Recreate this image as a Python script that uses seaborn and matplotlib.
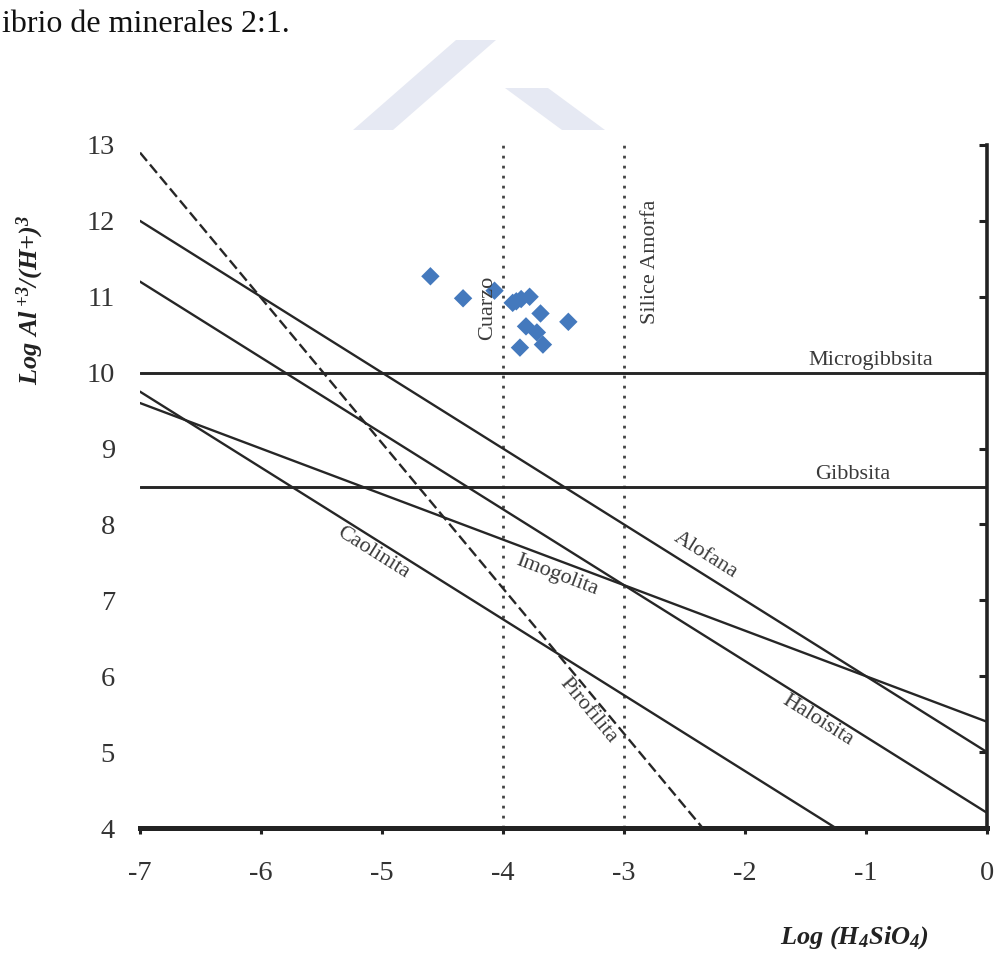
import numpy as np
import pandas as pd
import matplotlib
matplotlib.use("Agg")
import matplotlib.pyplot as plt
from matplotlib.patches import Polygon
import seaborn as sns

# Muestras de agua: log(H4SiO4) frente a log(Al+3/(H+)^3)
log_h4sio4 = [-4.60, -4.33, -4.07, -3.92, -3.89, -3.85, -3.78,
              -3.69, -3.46, -3.81, -3.72, -3.67, -3.86]
log_al_h3 = [11.27, 10.98, 11.08, 10.92, 10.94, 10.97, 11.00,
             10.78, 10.67, 10.61, 10.53, 10.37, 10.33]

# Rectas de equilibrio de los minerales (extremos de cada recta)
minerales = ["Alofana", "Haloisita", "Imogolita", "Caolinita", "Pirofilita"]
x_ini = [-7.0, -7.0, -7.0, -7.0, -7.0]
y_ini = [12.0, 11.2, 9.6, 9.75, 12.9]
x_fin = [0.0, 0.0, 0.0, -1.25, -2.35]
y_fin = [5.0, 4.2, 5.4, 4.0, 4.0]

# Fases de hidróxido de aluminio (independientes de la sílice)
fases_al = ["Microgibbsita", "Gibbsita"]
nivel_al = [10.0, 8.5]

# Saturación de sílice
fases_si = ["Cuarzo", "Silice Amorfa"]
nivel_si = [-4.0, -3.0]

x_ticks = [-7, -6, -5, -4, -3, -2, -1, 0]
y_ticks = [4, 5, 6, 7, 8, 9, 10, 11, 12, 13]

sns.set_style("white")
plt.rcParams["font.family"] = ["Liberation Serif", "DejaVu Serif"]
plt.rcParams["axes.unicode_minus"] = False
plt.rcParams["mathtext.fontset"] = "custom"
plt.rcParams["mathtext.rm"] = "Liberation Serif"
plt.rcParams["mathtext.it"] = "Liberation Serif:italic"
plt.rcParams["mathtext.bf"] = "Liberation Serif:bold"
plt.rcParams["mathtext.bfit"] = "Liberation Serif:bold:italic"

W, H = 997, 960
fig = plt.figure(figsize=(W / 100, H / 100), dpi=100)
fig.patch.set_facecolor("white")

# faint logo in the page background
logo_color = "#e6e9f3"
for pts in ([(353, 130), (393, 130), (496, 40), (456, 40)],
            [(505, 88), (548, 88), (605, 130), (562, 130)]):
    fig.patches.append(Polygon([(x / W, 1 - y / H) for x, y in pts],
                               closed=True, transform=fig.transFigure,
                               facecolor=logo_color, edgecolor="none", zorder=0))

fig.text(2 / W, 1 - 32 / H, "ibrio de minerales 2:1.", fontsize=23,
         color="#111111", ha="left", va="baseline")

ax = fig.add_axes([140 / W, 1 - 828 / H, 847 / W, 683 / H])
ax.set_facecolor("white")
ax.set_xlim(-7, 0)
ax.set_ylim(4, 13)

line_color = "#262626"
text_color = "#3a3a3a"

# silica saturation (dotted verticals)
for xv in nivel_si:
    ax.axvline(xv, color="#444444", lw=2.0, linestyle=(0, (1, 2.6)), zorder=2)

# aluminium hydroxide phases (horizontals)
for yv in nivel_al:
    ax.axhline(yv, color=line_color, lw=2.1, zorder=2)

# mineral equilibrium lines
seg = pd.DataFrame({
    "mineral": np.repeat(minerales, 2),
    "x": np.ravel(np.column_stack([x_ini, x_fin])),
    "y": np.ravel(np.column_stack([y_ini, y_fin])),
})
for name, g in seg.groupby("mineral", sort=False):
    dashed = name == "Pirofilita"
    sns.lineplot(data=g, x="x", y="y", ax=ax, color=line_color,
                 lw=1.7, estimator=None, sort=False, legend=False,
                 linestyle="--" if dashed else "-",
                 dashes=False, zorder=3)
    if dashed:
        ax.lines[-1].set_dashes((4.6, 2.0))

# sample points
sns.scatterplot(x=log_h4sio4, y=log_al_h3, ax=ax, marker="D", s=88,
                color="#4479bd", edgecolor="none", linewidth=0, zorder=5)

# line labels, rotated along each line
label_pos = {
    "Alofana": (-2.33, 7.60),
    "Haloisita": (-1.40, 5.42),
    "Imogolita": (-3.55, 7.33),
    "Caolinita": (-5.07, 7.62),
    "Pirofilita": (-3.30, 5.55),
}
for name, x0, y0, x1, y1 in zip(minerales, x_ini, y_ini, x_fin, y_fin):
    ang = np.degrees(np.arctan2(y1 - y0, x1 - x0))
    lx, ly = label_pos[name]
    ax.text(lx, ly, name, fontsize=16, color=text_color, rotation=ang,
            transform_rotates_text=True, rotation_mode="anchor",
            ha="center", va="center", zorder=6)

for name, yv, lx in zip(fases_al, nivel_al, [-0.96, -1.11]):
    ax.text(lx, yv + 0.1, name, fontsize=16, color=text_color,
            ha="center", va="baseline", zorder=6)

for name, xv, dx, ly in zip(fases_si, nivel_si, [-0.124, 0.215], [10.86, 11.46]):
    ax.text(xv + dx, ly, name, fontsize=16, color=text_color, rotation=90,
            ha="center", va="center", zorder=6)

# axes frame
sns.despine(ax=ax, top=True, left=True, right=False, bottom=False)
ax.spines["bottom"].set_linewidth(3.6)
ax.spines["bottom"].set_color("#222222")
ax.spines["right"].set_linewidth(2.6)
ax.spines["right"].set_color("#222222")

ax.set_xticks(x_ticks)
ax.set_xticklabels([str(t) for t in x_ticks])
ax.set_yticks(y_ticks)
ax.set_yticklabels([str(t) for t in y_ticks])
ax.tick_params(axis="x", bottom=True, direction="out", length=4.5, width=2.2,
               color="#222222", labelsize=20.5, labelcolor="#333333", pad=19)
ax.tick_params(axis="y", left=False, right=True, labelleft=True, labelright=False,
               direction="in", length=5.5, width=2.2, color="#222222",
               labelsize=20.5, labelcolor="#333333", pad=18)

ax.set_xlabel(r"$\mathbfit{Log\ (H}_{\mathbfit{4}}\mathbfit{SiO}_{\mathbfit{4}}\mathbfit{)}$",
              fontsize=19, color="#222222", va="center")
ax.xaxis.set_label_coords(0.843, -0.16)
ax.set_ylabel(r"$\mathbfit{Log\ Al}^{\ \mathbfit{+3}}\mathbfit{/(H{+})}^{\mathbfit{3}}$",
              fontsize=19, color="#222222", va="center")
ax.yaxis.set_label_coords(-0.13, 0.773)

fig.savefig("out.png", dpi=100)
